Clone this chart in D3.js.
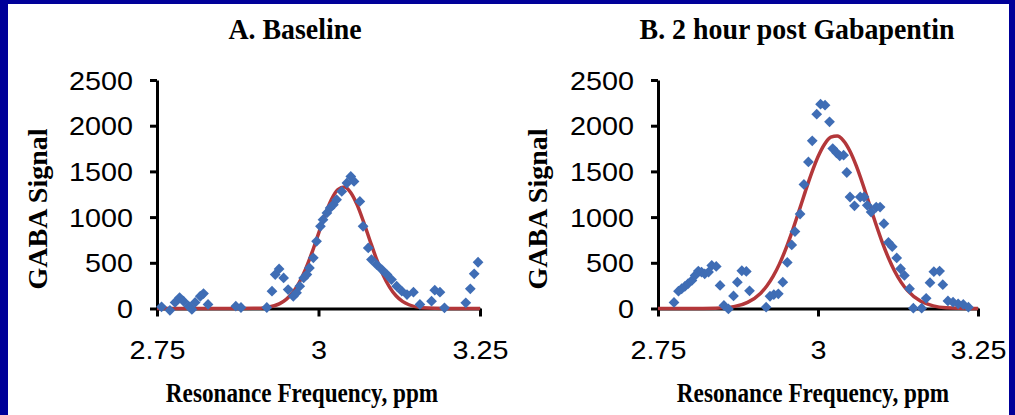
<!DOCTYPE html>
<html lang="en">
<head>
<meta charset="UTF-8">
<title>GABA Signal</title>
<script src="https://d3js.org/d3.v7.min.js"></script>
<style>
  body { margin: 0; background: #000099; }
  svg { display: block; }
</style>
</head>
<body>
<div id="chart"></div>
<script>
// tick values
const ppmTicks = [2.75, 3, 3.25];
const signalTicks = [0, 500, 1000, 1500, 2000, 2500];

// A. Baseline - measured points
const baselinePpm = [2.757, 2.770, 2.778, 2.785, 2.791, 2.799, 2.804, 2.809, 2.817, 2.822,
  2.829, 2.872, 2.880, 2.920, 2.928, 2.933, 2.939, 2.946, 2.953, 2.961,
  2.966, 2.971, 2.977, 2.982, 2.986, 2.992, 2.997, 3.003, 3.007, 3.013,
  3.018, 3.023, 3.028, 3.036, 3.044, 3.050, 3.055, 3.064, 3.069, 3.077,
  3.082, 3.090, 3.098, 3.106, 3.113, 3.121, 3.129, 3.137, 3.147, 3.157,
  3.175, 3.180, 3.188, 3.195, 3.228, 3.235, 3.241, 3.247];
const baselineSignal = [19, -20, 66, 120, 80, 25, -10, 66, 134, 164,
  44, 25, 11, 11, 189, 371, 433, 335, 207, 134,
  171, 244, 335, 371, 444, 554, 735, 899, 972, 1045,
  1100, 1136, 1190, 1281, 1373, 1445, 1390, 1172, 899, 663,
  535, 480, 426, 371, 317, 244, 189, 153, 178, 44,
  80, 200, 178, 8, 62, 215, 379, 506];

// A. Baseline - fitted curve
const baselineFitPpm = [2.75, 2.85, 2.90, 2.92, 2.94, 2.95, 2.96, 2.97, 2.98, 2.99,
  3.00, 3.01, 3.02, 3.03, 3.04, 3.05, 3.06, 3.07, 3.08, 3.09,
  3.10, 3.11, 3.12, 3.13, 3.14, 3.16, 3.20, 3.25];
const baselineFitSignal = [0, 0, 2, 12, 53, 99, 173, 282, 431, 614,
  819, 1022, 1193, 1302, 1330, 1267, 1131, 943, 736, 537,
  366, 234, 139, 78, 41, 9, 0, 0];

// B. 2 hour post Gabapentin - measured points
const gabaPpm = [2.775, 2.782, 2.787, 2.792, 2.797, 2.803, 2.808, 2.813, 2.818, 2.823,
  2.829, 2.834, 2.841, 2.847, 2.853, 2.860, 2.868, 2.874, 2.881, 2.888,
  2.893, 2.919, 2.925, 2.931, 2.938, 2.945, 2.952, 2.959, 2.964, 2.972,
  2.978, 2.985, 2.991, 2.998, 3.004, 3.011, 3.018, 3.023, 3.029, 3.034,
  3.040, 3.045, 3.050, 3.057, 3.066, 3.072, 3.077, 3.083, 3.091, 3.097,
  3.103, 3.110, 3.116, 3.123, 3.129, 3.135, 3.143, 3.149, 3.162, 3.169,
  3.175, 3.181, 3.190, 3.195, 3.203, 3.211, 3.219, 3.227, 3.235];
const gabaSignal = [66, 190, 216, 241, 271, 307, 362, 409, 398, 380,
  398, 471, 460, 252, 33, -5, 137, 288, 413, 405,
  194, 14, 134, 153, 161, 288, 504, 696, 842, 1034,
  1357, 1603, 1834, 2126, 2236, 2225, 2042, 1750, 1704, 1671,
  1677, 1488, 1220, 1123, 1220, 1220, 1129, 1055, 1110, 1110,
  928, 723, 676, 553, 435, 362, 216, 3, 3, 112,
  283, 403, 409, 261, 83, 69, 51, 44, 14];

// B. fitted curve
const gabaFitPpm = [2.75, 2.80, 2.84, 2.87, 2.89, 2.91, 2.92, 2.93, 2.94, 2.95,
  2.96, 2.97, 2.98, 2.99, 3.00, 3.01, 3.02, 3.03, 3.04, 3.05,
  3.06, 3.07, 3.08, 3.09, 3.10, 3.11, 3.12, 3.13, 3.14, 3.16,
  3.18, 3.20, 3.25];
const gabaFitSignal = [0, 0, 4, 23, 67, 165, 246, 354, 491, 658,
  850, 1060, 1276, 1481, 1660, 1795, 1874, 1887, 1834, 1720,
  1557, 1360, 1146, 933, 732, 555, 405, 286, 195, 81,
  29, 9, 0];

const W = 1015, H = 415;
const svg = d3.select("#chart").append("svg")
  .attr("width", W)
  .attr("height", H);

// white slide area inside the navy frame
svg.append("rect")
  .attr("x", 8).attr("y", 4)
  .attr("width", W - 14).attr("height", H - 4)
  .attr("fill", "#ffffff");

const serif = "'Liberation Serif', 'Times New Roman', serif";
const sans = "'Liberation Sans', Arial, sans-serif";
const stretch = 1.15;   // tick labels are a little wide in the slide
const narrow = 0.86;    // serif labels are a little condensed

function drawPanel(cfg) {
  const x = d3.scaleLinear().domain([2.75, 3.25]).range([cfg.left, cfg.right]);
  const y = d3.scaleLinear().domain([0, 2500]).range([308.5, 80]);

  // y axis
  const gy = svg.append("g")
    .attr("transform", `translate(${cfg.left},0)`)
    .call(d3.axisLeft(y).tickValues(signalTicks).tickSize(7).tickSizeOuter(0).tickFormat(d3.format("d")));
  gy.select(".domain").attr("stroke", "#000").attr("stroke-width", 3);
  gy.selectAll(".tick line").attr("stroke", "#000").attr("stroke-width", 3);
  gy.selectAll(".tick text")
    .attr("font-family", sans).attr("font-size", 25).attr("fill", "#000")
    .attr("x", -24 / stretch).attr("dy", "0.36em")
    .attr("transform", `scale(${stretch},1)`);

  // x axis at zero
  const gx = svg.append("g")
    .attr("transform", `translate(0,${y(0)})`)
    .call(d3.axisBottom(x).tickValues(ppmTicks).tickSize(8).tickSizeOuter(0).tickFormat(d => String(d)));
  gx.select(".domain").attr("stroke", "#000").attr("stroke-width", 3);
  gx.selectAll(".tick line").attr("stroke", "#000").attr("stroke-width", 3);
  gx.selectAll(".tick text")
    .attr("font-family", sans).attr("font-size", 25).attr("fill", "#000")
    .attr("y", 51).attr("dy", 0)
    .attr("transform", `scale(${stretch},1)`);

  // fitted curve
  const fit = cfg.fitPpm.map((p, i) => [p, cfg.fitSignal[i]]);
  svg.append("path")
    .datum(fit)
    .attr("fill", "none")
    .attr("stroke", "#B3373A")
    .attr("stroke-width", 3.5)
    .attr("d", d3.line().x(d => x(d[0])).y(d => y(d[1])).curve(d3.curveMonotoneX));

  // measured points
  const pts = cfg.ppm.map((p, i) => [p, cfg.signal[i]]);
  svg.append("g").selectAll("path")
    .data(pts)
    .join("path")
    .attr("d", d3.symbol(d3.symbolSquare, 58))
    .attr("transform", d => `translate(${x(d[0])},${y(d[1])}) rotate(45)`)
    .attr("fill", "#3F6DB5");

  // titles
  svg.append("text")
    .attr("transform", `translate(${cfg.titleX},39) scale(0.93,1)`)
    .attr("text-anchor", "middle")
    .attr("font-family", serif).attr("font-weight", "bold").attr("font-size", 30)
    .text(cfg.title);

  svg.append("text")
    .attr("transform", `translate(${cfg.yLabelX},209) rotate(-90)`)
    .attr("text-anchor", "middle")
    .attr("font-family", serif).attr("font-weight", "bold").attr("font-size", 28)
    .text("GABA Signal");

  svg.append("text")
    .attr("transform", `translate(${cfg.xLabelX},402) scale(${narrow},1)`)
    .attr("text-anchor", "middle")
    .attr("font-family", serif).attr("font-weight", "bold").attr("font-size", 27)
    .text("Resonance Frequency, ppm");
}

drawPanel({
  left: 157, right: 480,
  ppm: baselinePpm, signal: baselineSignal,
  fitPpm: baselineFitPpm, fitSignal: baselineFitSignal,
  title: "A. Baseline", titleX: 295,
  yLabelX: 47, xLabelX: 302
});

drawPanel({
  left: 658, right: 978,
  ppm: gabaPpm, signal: gabaSignal,
  fitPpm: gabaFitPpm, fitSignal: gabaFitSignal,
  title: "B. 2 hour post Gabapentin", titleX: 797,
  yLabelX: 547, xLabelX: 813
});
</script>
</body>
</html>
